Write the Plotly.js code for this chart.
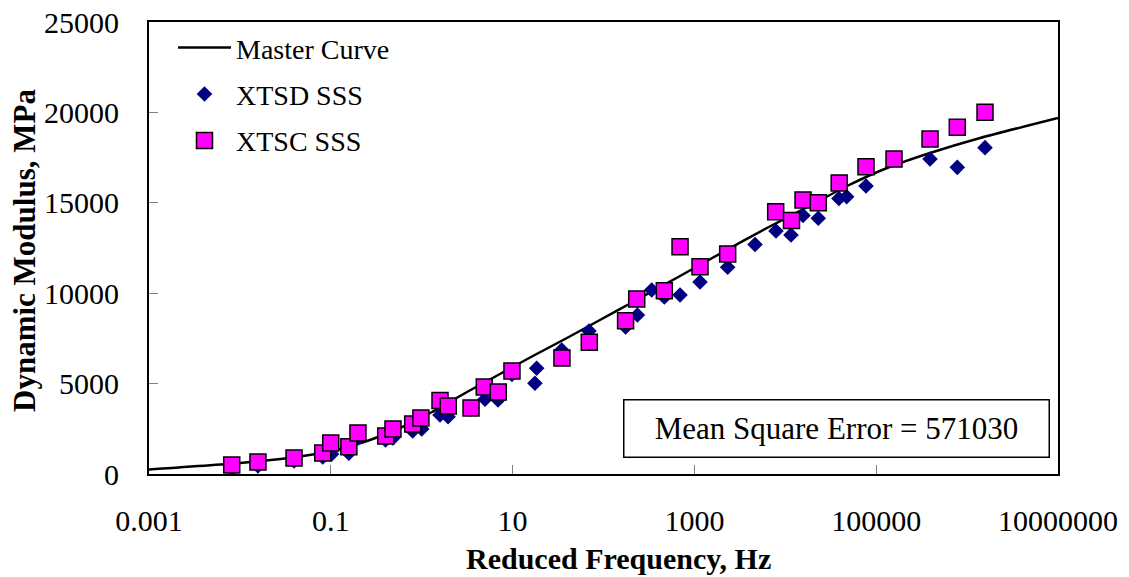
<!DOCTYPE html>
<html>
<head>
<meta charset="utf-8">
<script src="https://cdn.plot.ly/plotly-3.0.1.min.js"></script>
<style>html,body{margin:0;padding:0;background:#fff;}#chart{width:1129px;height:577px;}</style>
</head>
<body>
<div id="chart"></div>
<script>
// Master curve
const curveFreq = [0.001, 0.01, 0.0458, 0.126, 0.270, 0.577, 1.30, 3.15, 7.26, 16.7, 39.6, 91.4, 211, 695, 2065, 6280, 20200, 47800, 131500, 391000, 1390000, 10000000];
const curveMod  = [250, 608, 968, 1383, 1881, 2544, 3429, 4535, 5531, 6527, 7522, 8518, 9513, 10951, 12279, 13606, 14934, 15929, 16925, 17755, 18584, 19690];

// XTSD SSS (diamonds)
const xtsdFreq = [0.00813, 0.0158, 0.0394, 0.0815, 0.102, 0.158, 0.199, 0.40, 0.483, 0.796, 1.0, 1.59, 1.95, 3.49, 4.97, 6.91, 9.84, 17.6, 18.4, 34.7, 69.2, 175, 236, 339, 467, 695, 1153, 2323, 4645, 7900, 11550, 15660, 23070, 38900, 47300, 77250, 391000, 780000, 1574000];
const xtsdMod  = [300, 450, 720, 940, 1100, 1150, 1990, 1880, 1990, 2378, 2489, 3263, 3169, 3600, 4131, 4093, 5500, 5016, 5846, 6858, 7909, 8130, 8794, 10177, 9790, 9900, 10620, 11432, 12693, 13440, 13218, 14297, 14142, 15237, 15337, 15928, 17423, 16962, 18050];

// XTSC SSS (squares)
const xtscFreq = [0.00813, 0.0158, 0.0394, 0.0815, 0.0998, 0.158, 0.199, 0.402, 0.483, 0.796, 0.98, 1.59, 1.96, 3.49, 4.88, 6.96, 9.84, 34.9, 69.8, 175, 232, 467, 695, 1153, 2323, 7840, 11700, 15660, 23070, 39170, 77250, 157000, 391000, 780000, 1574000];
const xtscMod  = [498, 664, 885, 1161, 1715, 1510, 2268, 2102, 2489, 2766, 3097, 4065, 3761, 3650, 4812, 4535, 5697, 6416, 7284, 8479, 9679, 10138, 12572, 11466, 12168, 14508, 14021, 15155, 15006, 16095, 16997, 17423, 18529, 19176, 20006];

const xTickVals = [0.001, 0.1, 10, 1000, 100000, 10000000];
const xTickText = ["0.001", "0.1", "10", "1000", "100000", "10000000"];
const yTickVals = [0, 5000, 10000, 15000, 20000, 25000];
const yTickText = ["0", "5000", "10000", "15000", "20000", "25000"];

const serif = "Liberation Serif, Times New Roman, serif";

const traces = [
  {x: curveFreq, y: curveMod, type: 'scatter', mode: 'lines', name: 'Master Curve',
   line: {color: '#000000', width: 2.5, shape: 'spline', smoothing: 0.5}, legendgroup: 'a'},
  {x: xtsdFreq, y: xtsdMod, type: 'scatter', mode: 'markers', name: 'XTSD SSS',
   marker: {symbol: 'diamond', color: '#000080', size: 12, line: {width: 0}}, legendgroup: 'b'},
  {x: xtscFreq, y: xtscMod, type: 'scatter', mode: 'markers', name: 'XTSC SSS',
   marker: {symbol: 'square', color: '#FF00FF', size: 16, line: {color: '#000000', width: 1.5}}, legendgroup: 'c'}
];

const layout = {
  width: 1129, height: 577,
  margin: {l: 149, r: 71, t: 22, b: 103},
  paper_bgcolor: '#ffffff', plot_bgcolor: '#ffffff',
  font: {family: serif, color: '#000000', size: 28},
  showlegend: true,
  legend: {x: 0.0264, y: 0.998, xanchor: 'left', yanchor: 'top', bgcolor: 'rgba(0,0,0,0)',
           font: {family: serif, size: 28, color: '#000'}, traceorder: 'grouped', tracegroupgap: 7,
           itemwidth: 53},
  xaxis: {type: 'log', range: [-3, 7], tickvals: xTickVals, ticktext: xTickText,
          ticks: 'inside', ticklen: 9, tickwidth: 1, tickcolor: '#808080',
          showline: true, linecolor: '#000', linewidth: 2, mirror: true, showgrid: false, zeroline: false,
          tickfont: {family: serif, size: 30}, ticklabelstandoff: 19},
  yaxis: {range: [0, 25000], tickvals: yTickVals, ticktext: yTickText,
          ticks: 'inside', ticklen: 9, tickwidth: 1, tickcolor: '#808080',
          showline: true, linecolor: '#000', linewidth: 2, mirror: true, showgrid: false, zeroline: false,
          tickfont: {family: serif, size: 30}, ticklabelstandoff: 22},
  annotations: [
    {xref: 'paper', yref: 'paper', x: 0.756, y: 0.1007, xanchor: 'center', yanchor: 'middle',
     text: 'Mean Square Error = 571030', showarrow: false,
     font: {family: serif, size: 31, color: '#000'},
     bordercolor: '#000', borderwidth: 1.5, borderpad: 0, bgcolor: '#fff',
     width: 424, height: 56, align: 'center'},
    {xref: 'paper', yref: 'paper', x: (618 - 149) / 909, y: -(558 - 474) / 452, xanchor: 'center', yanchor: 'middle',
     text: '<b>Reduced Frequency, Hz</b>', showarrow: false, font: {family: serif, size: 30, color: '#000'}},
    {xref: 'paper', yref: 'paper', x: -(149 - 25) / 909, y: (474 - 251) / 452, xanchor: 'center', yanchor: 'middle',
     text: '<b>Dynamic Modulus, MPa</b>', showarrow: false, textangle: -90, font: {family: serif, size: 31, color: '#000'}}
  ]
};

Plotly.newPlot('chart', traces, layout, {staticPlot: true, displayModeBar: false});
</script>
</body>
</html>
